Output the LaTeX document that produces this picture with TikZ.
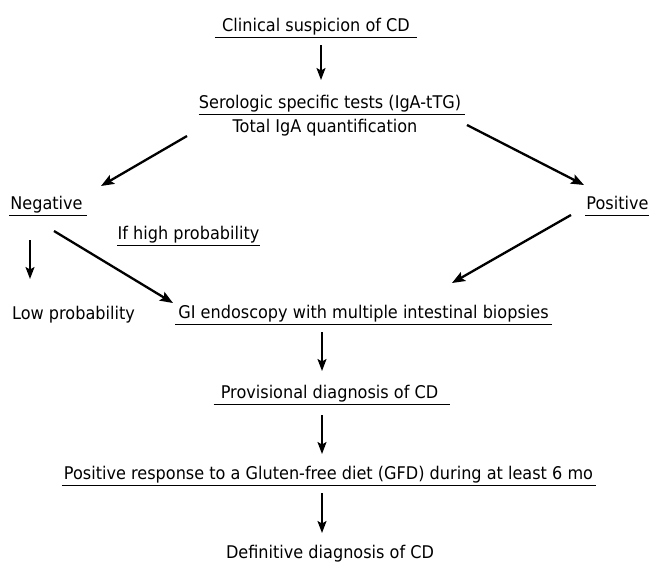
\documentclass[tikz,border=0pt]{standalone}
\usepackage{fontspec}
\setmainfont[FakeStretch=0.92]{DejaVu Sans}
\usetikzlibrary{arrows.meta}
\begin{document}
\begin{tikzpicture}[x=1pt,y=-1pt,
  txt/.style={anchor=base,inner sep=0pt,font=\fontsize{17.5}{20}\selectfont},
  ul/.style 2 args={append after command={([xshift=-#1pt,yshift=-6pt]\tikzlastnode.base west) edge[line width=0.9pt] ([xshift=#2pt,yshift=-6pt]\tikzlastnode.base east)}},
  varr/.style={line width=1.8pt,-{Stealth[length=12pt,width=9pt,inset=2.5pt]}},
  darr/.style={line width=2.3pt,-{Stealth[length=13pt,width=10pt,inset=2.5pt]}}]
\useasboundingbox (0,0) rectangle (649,562);
\node[txt,ul={7}{7}] (clin) at (316,31) {Clinical suspicion of CD};
\node[txt,ul={0}{4}] (sero) at (330,108) {Serologic specific tests (IgA-tTG)};
\node[txt] (total) at (325,132) {Total IgA quantification};
\node[txt,ul={1}{4}] (neg) at (46.5,209) {Negative};
\node[txt,ul={1}{0}] (pos) at (617.5,209) {Positive};
\node[txt,ul={0}{0}] (ifhigh) at (188.5,239) {If high probability};
\node[txt] (low) at (73.5,319) {Low probability};
\node[txt,ul={3}{3}] (gi) at (363.5,318) {GI endoscopy with multiple intestinal biopsies};
\node[txt,ul={7}{12}] (prov) at (329.5,398) {Provisional diagnosis of CD};
\node[txt,ul={2}{3}] (posr) at (328.5,479) {Positive response to a Gluten-free diet (GFD) during at least 6 mo};
\node[txt] (def) at (330,558) {Definitive diagnosis of CD};
\draw[varr] ([shift={(5,14)}]clin.base) -- ([shift={(-9,-28)}]sero.base);
\draw[darr] ([shift={(-138,4)}]total.base) -- ([shift={(54.5,-23)}]neg.base);
\draw[darr] ([shift={(137,17)}]sero.base) -- ([shift={(-33.5,-24)}]pos.base);
\draw[varr] ([shift={(-16.5,31)}]neg.base) -- ([shift={(-43.5,-40)}]low.base);
\draw[darr] ([shift={(7.5,22)}]neg.base) -- ([shift={(-190.5,-15)}]gi.base);
\draw[darr] ([shift={(-46.5,6)}]pos.base) -- ([shift={(88.5,-35)}]gi.base);
\draw[varr] ([shift={(-41.5,14)}]gi.base) -- ([shift={(-7.5,-27)}]prov.base);
\draw[varr] ([shift={(-7.5,17)}]prov.base) -- ([shift={(-6.5,-25)}]posr.base);
\draw[varr] ([shift={(-6.5,14)}]posr.base) -- ([shift={(-8,-25)}]def.base);
\end{tikzpicture}
\end{document}
